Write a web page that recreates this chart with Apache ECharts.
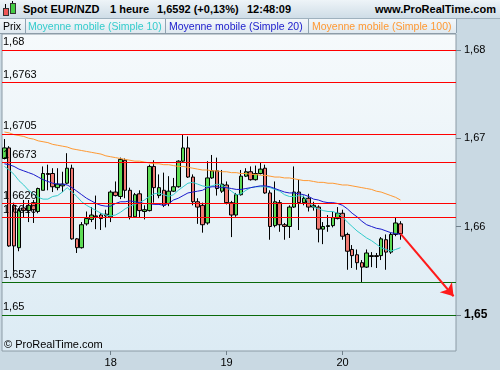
<!DOCTYPE html>
<html><head><meta charset="utf-8">
<script src="https://cdn.jsdelivr.net/npm/echarts@6/dist/echarts.min.js"></script>
<style>
html,body{margin:0;padding:0;background:#c9d9e3;}
#wrap{position:relative;width:500px;height:370px;background:#c9d9e3;overflow:hidden;font-family:"Liberation Sans",Arial,sans-serif;}
#chart{position:absolute;left:0;top:0;width:500px;height:370px;}
#hdr{position:absolute;left:0;top:0;width:500px;height:18px;background:linear-gradient(#eef4f8,#cfdde7);border-bottom:1px solid #9fb1be;}
#hdr span{position:absolute;top:3px;font-weight:bold;font-size:11px;color:#000;white-space:nowrap;}
#leg{position:absolute;left:0;top:19px;width:456px;height:14px;background:linear-gradient(#f3f7fa,#dfe9f0);border-bottom:1px solid #8d9ca8;}
#leg span{position:absolute;top:1px;font-size:10.5px;white-space:nowrap;}
.sep{position:absolute;top:0;width:1px;height:14px;background:#8fa3b2;}
.ic{position:absolute;}
</style></head><body>
<div id="wrap">
<div id="chart"></div>
<div id="hdr">
 <div class="ic" style="left:5px;top:4px;width:1px;height:12px;background:#000"></div>
 <div class="ic" style="left:3px;top:8px;width:4px;height:6px;background:#ee5555;border:1px solid #333"></div>
 <div class="ic" style="left:12px;top:1px;width:1px;height:13px;background:#000"></div>
 <div class="ic" style="left:10px;top:3px;width:4px;height:9px;background:#44cc44;border:1px solid #333"></div>
 <span style="left:23px">Spot EUR/NZD</span>
 <span style="left:110px">1 heure</span>
 <span style="left:157px">1,6592 (+0,13%)</span>
 <span style="left:247px">12:48:09</span>
 <span style="right:4px">www.ProRealTime.com</span>
</div>
<div id="leg">
 <span style="left:3px;color:#000">Prix</span>
 <div class="sep" style="left:25px"></div>
 <span style="left:28px;color:#33cccc">Moyenne mobile (Simple 10)</span>
 <div class="sep" style="left:165px"></div>
 <span style="left:169px;color:#1a1acc">Moyenne mobile (Simple 20)</span>
 <div class="sep" style="left:308px"></div>
 <span style="left:312px;color:#ff9933">Moyenne mobile (Simple 100)</span>
 <div class="sep" style="left:456px"></div>
</div>
</div>
<script>
// first candle: 17th 02:00, hourly; 94 slots (83 candles + empty space on the right)
const startDay = 17, startHour = 2, slotCount = 94;
const categories = [];
for (let k = 0; k < slotCount; k++) {
  const t = startHour + k;
  const d = startDay + Math.floor(t / 24), h = t % 24;
  categories.push(d + ' ' + (h < 10 ? '0' : '') + h + ':00');
}
const dayTicks = ['18 00:00', '19 00:00', '20 00:00'];

const openP = [1.6677,1.6689,1.6624,1.6576,1.6621,1.6618,1.6627,1.6617,1.6641,1.6660,
1.6660,1.6644,1.6646,1.6649,1.6666,1.6586,1.6576,1.6603,1.6608,1.6612,
1.6613,1.6614,1.6611,1.6639,1.6634,1.6675,1.6641,1.6611,1.6637,1.6617,
1.6618,1.6668,1.6635,1.6641,1.6626,1.6640,1.6645,1.6674,1.6689,1.6656,
1.6628,1.6624,1.6604,1.6655,1.6663,1.6640,1.6647,1.6627,1.6613,1.6636,
1.6657,1.6662,1.6653,1.6660,1.6666,1.6638,1.6601,1.6627,1.6602,1.6600,
1.6622,1.6639,1.6627,1.6632,1.6622,1.6622,1.6597,1.6600,1.6601,1.6609,
1.6615,1.6591,1.6574,1.6568,1.6559,1.6554,1.6566,1.6567,1.6567,1.6585,
1.6571,1.6591,1.6603];
const closeP = [1.6689,1.6578,1.6578,1.6618,1.6618,1.6624,1.6619,1.6643,1.6660,1.6659,
1.6645,1.6648,1.6648,1.6666,1.6586,1.6576,1.6602,1.6609,1.6613,1.6611,
1.6609,1.6612,1.6639,1.6635,1.6676,1.6641,1.6611,1.6636,1.6618,1.6619,
1.6668,1.6644,1.6644,1.6624,1.6640,1.6645,1.6674,1.6689,1.6656,1.6628,
1.6622,1.6602,1.6655,1.6663,1.6643,1.6648,1.6627,1.6613,1.6636,1.6657,
1.6662,1.6653,1.6660,1.6665,1.6638,1.6600,1.6628,1.6602,1.6600,1.6622,
1.6639,1.6627,1.6632,1.6622,1.6624,1.6597,1.6600,1.6601,1.6610,1.6615,
1.6589,1.6572,1.6567,1.6559,1.6554,1.6570,1.6567,1.6566,1.6586,1.6571,
1.6591,1.6604,1.6592];
const lowP = [1.6676,1.6577,1.6549,1.6572,1.6610,1.6605,1.6604,1.6615,1.6641,1.6641,
1.6639,1.6641,1.6639,1.6648,1.6585,1.6570,1.6575,1.6601,1.6605,1.6597,
1.6596,1.6599,1.6605,1.6634,1.6631,1.6632,1.6608,1.6610,1.6610,1.6608,
1.6617,1.6627,1.6632,1.6622,1.6623,1.6639,1.6644,1.6673,1.6655,1.6624,
1.6603,1.6593,1.6602,1.6654,1.6635,1.6638,1.6625,1.6588,1.6611,1.6635,
1.6656,1.6652,1.6652,1.6659,1.6637,1.6585,1.6599,1.6594,1.6585,1.6587,
1.6621,1.6596,1.6624,1.6617,1.6618,1.6582,1.6580,1.6594,1.6599,1.6608,
1.6585,1.6551,1.6553,1.6551,1.6537,1.6553,1.6554,1.6553,1.6562,1.6551,
1.6569,1.6589,1.6585];
const highP = [1.6699,1.6691,1.6627,1.6621,1.6630,1.6630,1.6630,1.6644,1.6668,1.6670,
1.6666,1.6666,1.6662,1.6683,1.6670,1.6587,1.6605,1.6617,1.6622,1.6635,
1.6615,1.6619,1.6641,1.6651,1.6678,1.6677,1.6644,1.6638,1.6641,1.6624,
1.6670,1.6675,1.6659,1.6661,1.6657,1.6655,1.6675,1.6704,1.6702,1.6659,
1.6632,1.6627,1.6674,1.6681,1.6678,1.6664,1.6651,1.6629,1.6638,1.6664,
1.6666,1.6668,1.6669,1.6672,1.6670,1.6641,1.6651,1.6630,1.6604,1.6624,
1.6668,1.6653,1.6635,1.6637,1.6628,1.6624,1.6605,1.6613,1.6617,1.6622,
1.6619,1.6593,1.6579,1.6574,1.6562,1.6574,1.6571,1.6570,1.6588,1.6591,
1.6593,1.6610,1.6606];

const sma10 = [1.6668,1.6664,1.6659,1.6652,1.6647,1.6641,1.6637,1.6633,1.6631,1.6631,
1.6634,1.6635,1.6639,1.6644,1.6639,1.6634,1.6628,1.6624,1.6621,1.6618,
1.6615,1.6613,1.6612,1.6613,1.6616,1.6620,1.6623,1.6625,1.6627,1.6630,
1.6634,1.6637,1.6638,1.6636,1.6634,1.6636,1.6641,1.6645,1.6649,1.6650,
1.6648,1.6646,1.6645,1.6646,1.6648,1.6647,1.6644,1.6640,1.6636,1.6637,
1.6641,1.6644,1.6645,1.6645,1.6645,1.6644,1.6642,1.6640,1.6636,1.6634,
1.6634,1.6635,1.6634,1.6627,1.6622,1.6620,1.6618,1.6617,1.6617,1.6615,
1.6611,1.6605,1.6600,1.6595,1.6591,1.6587,1.6584,1.6580,1.6576,1.6574,
1.6572,1.6574,1.6576];
const sma20 = [1.6671,1.6670,1.6668,1.6665,1.6663,1.6661,1.6659,1.6656,1.6653,1.6651,
1.6649,1.6648,1.6648,1.6647,1.6644,1.6640,1.6636,1.6632,1.6629,1.6626,
1.6624,1.6623,1.6623,1.6626,1.6628,1.6628,1.6629,1.6628,1.6627,1.6626,
1.6626,1.6625,1.6625,1.6624,1.6626,1.6630,1.6632,1.6635,1.6638,1.6639,
1.6640,1.6641,1.6644,1.6645,1.6645,1.6644,1.6644,1.6643,1.6642,1.6642,
1.6643,1.6644,1.6645,1.6646,1.6646,1.6645,1.6643,1.6641,1.6639,1.6638,
1.6638,1.6637,1.6636,1.6634,1.6631,1.6630,1.6628,1.6627,1.6627,1.6626,
1.6624,1.6620,1.6615,1.6611,1.6606,1.6602,1.6600,1.6598,1.6597,1.6595,
1.6593,1.6592,1.6591];
const sma100 = [1.6707,1.6706,1.6704,1.6703,1.6702,1.6700,1.6699,1.6697,1.6696,1.6695,
1.6693,1.6692,1.6691,1.6690,1.6688,1.6687,1.6686,1.6685,1.6684,1.6683,
1.6682,1.6680,1.6679,1.6678,1.6677,1.6676,1.6675,1.6674,1.6674,1.6673,
1.6672,1.6671,1.6671,1.6670,1.6670,1.6669,1.6668,1.6668,1.6667,1.6666,
1.6665,1.6664,1.6664,1.6663,1.6663,1.6662,1.6662,1.6661,1.6661,1.6660,
1.6660,1.6659,1.6659,1.6658,1.6658,1.6657,1.6656,1.6656,1.6655,1.6655,
1.6654,1.6653,1.6652,1.6652,1.6651,1.6650,1.6650,1.6649,1.6649,1.6648,
1.6647,1.6647,1.6646,1.6645,1.6644,1.6643,1.6642,1.6640,1.6639,1.6637,
1.6635,1.6633,1.6630];

const levelValues = [1.68, 1.6763, 1.6705, 1.6673, 1.6626, 1.6610, 1.6537, 1.65];
const levelLabels = ['1,68', '1,6763', '1,6705', '1,6673', '1,6626', '1,6610', '1,6537', '1,65'];
const levelKinds = ['r', 'r', 'r', 'r', 'r', 'r', 'g', 'g'];
const axisTicks = [1.65, 1.66, 1.67, 1.68];
const boldTick = 1.65;
const arrowFrom = ['20 12:00', 1.6592];
const arrowTo = ['20 23:00', 1.6521];

const candles = openP.map((o, i) => [o, closeP[i], lowP[i], highP[i]]);
const dayIdx = dayTicks.map(d => categories.indexOf(d));
const isDay = (i) => dayIdx.indexOf(i) >= 0;

const chart = echarts.init(document.getElementById('chart'));
chart.setOption({
  animation: false,
  backgroundColor: 'transparent',
  grid: {
    left: 2, right: 44, top: 34, bottom: 19, show: true,
    borderColor: '#8c9ba6', borderWidth: 1,
    backgroundColor: new echarts.graphic.LinearGradient(0, 0, 0, 1, [
      { offset: 0, color: '#f6fafc' }, { offset: 1, color: '#dcebf4' }])
  },
  xAxis: {
    type: 'category', data: categories, boundaryGap: true,
    axisLine: { show: false },
    axisTick: { show: true, interval: (i) => isDay(i), alignWithLabel: true, length: 4, lineStyle: { color: '#6f7f8a' } },
    axisLabel: { interval: (i) => isDay(i), formatter: (v) => v.split(' ')[0], color: '#000', fontSize: 11, margin: 6, fontFamily: 'Liberation Sans, Arial' },
    splitLine: { show: false }
  },
  yAxis: {
    type: 'value', position: 'right', min: 1.6459, max: 1.6818, scale: true,
    axisLine: { show: false },
    splitLine: { show: false },
    axisTick: { show: true, customValues: axisTicks, length: 5, lineStyle: { color: '#6f7f8a' } },
    axisLabel: {
      customValues: axisTicks, margin: 8, color: '#000', fontSize: 11, fontFamily: 'Liberation Sans, Arial',
      formatter: (v) => {
        const s = v.toFixed(2).replace('.', ',');
        return Math.abs(v - boldTick) < 1e-9 ? '{b|' + s + '}' : s;
      },
      rich: { b: { fontWeight: 'bold', fontSize: 12, color: '#000', fontFamily: 'Liberation Sans, Arial' } }
    }
  },
  series: [
    {
      name: 'levels', type: 'line', data: [], z: 1, silent: true,
      markLine: {
        silent: true, symbol: ['none', 'none'], animation: false, precision: 4,
        data: levelValues.map((v, i) => ({
          yAxis: v,
          lineStyle: { color: levelKinds[i] === 'r' ? '#ff0000' : '#0b6a0b', width: 1, type: 'solid' },
          label: { show: true, formatter: levelLabels[i], position: 'insideStartTop', distance: [1, 2],
            color: '#000', fontSize: 11, fontFamily: 'Liberation Sans, Arial' }
        }))
      }
    },
    {
      name: 'Prix', type: 'candlestick', data: candles, barWidth: 4, z: 3,
      itemStyle: { color: '#5ddc55', color0: '#f07a72', borderColor: '#000', borderColor0: '#000', borderWidth: 1 }
    },
    { name: 'SMA10', type: 'line', data: sma10, showSymbol: false, z: 4, lineStyle: { color: '#33cccc', width: 1 } },
    { name: 'SMA20', type: 'line', data: sma20, showSymbol: false, z: 4, lineStyle: { color: '#1a1acc', width: 1 } },
    { name: 'SMA100', type: 'line', data: sma100, showSymbol: false, z: 4, lineStyle: { color: '#ff9933', width: 1 },
      markLine: {
        silent: true, animation: false, symbol: ['none', 'arrow'], symbolSize: 12, precision: 4,
        lineStyle: { color: '#ff1a1a', width: 2, type: 'solid' }, label: { show: false },
        data: [[{ coord: arrowFrom }, { coord: arrowTo }]]
      }
    }
  ],
  graphic: [
    { type: 'text', left: 4, top: 339, style: { text: '© ProRealTime.com', fontSize: 11, fill: '#000', fontFamily: 'Liberation Sans, Arial' }, z: 10 }
  ]
});
</script>
</body></html>
